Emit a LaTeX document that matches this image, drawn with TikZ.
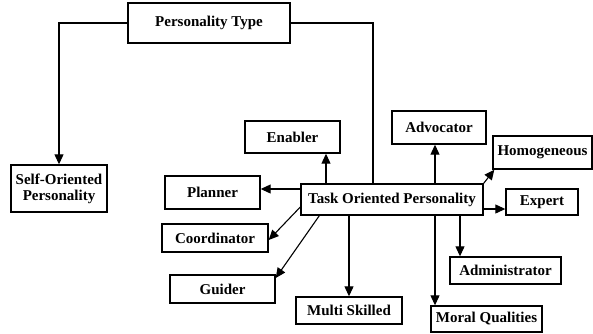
\documentclass[tikz,border=0pt]{standalone}
\usepackage{fontspec}
\setmainfont{Liberation Serif}
\usetikzlibrary{arrows.meta}
\begin{document}
\begin{tikzpicture}[x=1pt,y=-1pt,
  box/.style={draw,line width=1.4pt,inner sep=0pt,align=center,font=\fontsize{15}{16}\selectfont\bfseries},
  arr/.style={line width=1.1pt,-{Triangle[length=10pt,width=9pt]}},
  ln/.style={line width=1.1pt}]
\useasboundingbox (0,0) rectangle (593,333);
\node[box,minimum width=162pt,minimum height=40pt] (pt) at (209,23) {Personality Type};
\node[box,minimum width=96pt,minimum height=47pt] (so) at (59,188.5) {Self-Oriented\\Personality};
\node[box,minimum width=95pt,minimum height=32pt] (en) at (292.5,137) {Enabler};
\node[box,minimum width=94pt,minimum height=33pt] (adv) at (439,127.5) {Advocator};
\node[box,minimum width=99pt,minimum height=33pt] (hom) at (542.5,152.5) {Homogeneous};
\node[box,minimum width=182pt,minimum height=31pt] (task) at (392,199.5) {Task Oriented Personality};
\node[box,minimum width=95pt,minimum height=33pt] (pl) at (212.5,192.5) {Planner};
\node[box,minimum width=72pt,minimum height=26pt] (ex) at (542,202) {Expert};
\node[box,minimum width=106pt,minimum height=28pt] (co) at (215,238) {Coordinator};
\node[box,minimum width=105pt,minimum height=28pt] (gu) at (222.5,289) {Guider};
\node[box,minimum width=111pt,minimum height=27pt] (adm) at (505.5,270.5) {Administrator};
\node[box,minimum width=106pt,minimum height=27pt] (ms) at (349,310.5) {Multi Skilled};
\node[box,minimum width=111pt,minimum height=26pt] (mq) at (486.5,319) {Moral Qualities};
\coordinate (tj) at (373,184);
\draw[arr] (pt.west) -| (so.north);
\draw[ln] (pt.east) -| (tj);
\draw[arr] ([xshift=-66pt]task.north) -- ([xshift=33.5pt]en.south);
\draw[arr] ([xshift=43pt]task.north) -- ([xshift=-4pt]adv.south);
\draw[arr] (task.north east) -- ([xshift=2pt]hom.south west);
\draw[arr] ([yshift=-9.5pt]task.east) -- ([yshift=-7pt]ex.west);
\draw[arr] ([xshift=68pt]task.south) -- ([xshift=-45.5pt]adm.north);
\draw[arr] ([xshift=43pt]task.south) -- ([xshift=-51.5pt]mq.north);
\draw[arr] ([xshift=-43pt]task.south) -- (ms.north);
\draw[arr] ([yshift=10.5pt]task.west) -- ([yshift=3.5pt]pl.east);
\draw[arr] ([yshift=-7.5pt]task.west) -- ([yshift=-2pt]co.east);
\draw[arr] ([xshift=19pt]task.south west) -- ([yshift=11pt]gu.east);
\end{tikzpicture}
\end{document}
